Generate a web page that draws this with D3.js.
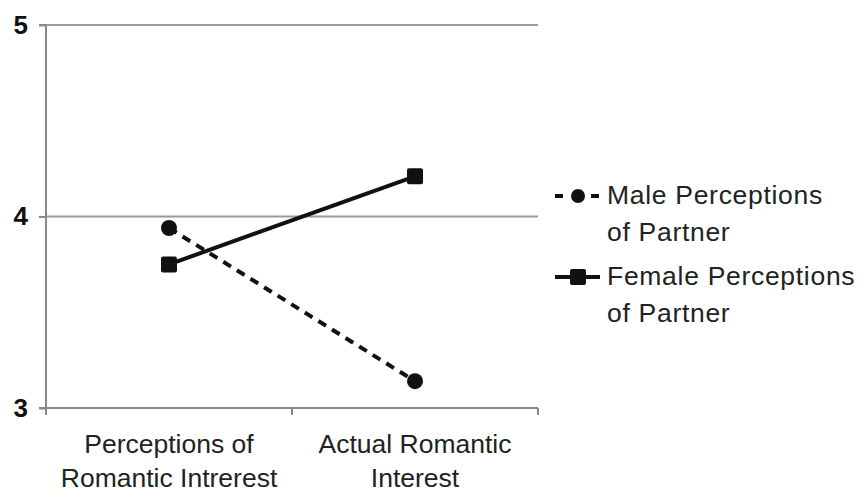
<!DOCTYPE html>
<html><head><meta charset="utf-8">
<script src="https://cdn.jsdelivr.net/npm/d3@7"></script>
<style>body{margin:0;background:#fff}svg{display:block}text{font-family:"Liberation Sans",Arial,sans-serif}</style>
</head><body><svg id="c" width="859" height="493"></svg>
<script>
const categories = [["Perceptions of","Romantic Intrerest"],["Actual Romantic","Interest"]];
const maleValues = [3.94, 3.14];
const femaleValues = [3.75, 4.21];
const yTicks = [3, 4, 5];
const seriesNames = [["Male Perceptions","of Partner"],["Female Perceptions","of Partner"]];

const svg = d3.select("#c");
const L = 46, R = 538, T = 25, B = 408;
const x = d3.scaleBand().domain([0,1]).range([L, R]);
const y = d3.scaleLinear().domain([3,5]).range([B, T]);

// gridlines
svg.append("g").selectAll("line").data(yTicks.filter(d=>d>3)).join("line")
  .attr("x1", L).attr("x2", R).attr("y1", d=>y(d)).attr("y2", d=>y(d))
  .attr("stroke", "#999").attr("stroke-width", 2);

// y axis
const ya = svg.append("g").attr("transform", `translate(${L},0)`)
  .call(d3.axisLeft(y).tickValues(yTicks).tickFormat(d3.format("d")).tickSize(7).tickPadding(11));
ya.select(".domain").attr("stroke", "#888").attr("stroke-width", 2).attr("d", `M-7,${T}H0V${B}H-7`);
ya.selectAll(".tick line").attr("stroke", "#888").attr("stroke-width", 2);
ya.selectAll(".tick text").attr("font-size", 26).attr("font-weight", "bold").attr("fill", "#111")
  .attr("font-family", "Liberation Sans, Arial, sans-serif");

// x axis
const xa = svg.append("g").attr("transform", `translate(0,${B})`);
xa.append("line").attr("x1", L).attr("x2", R).attr("stroke", "#888").attr("stroke-width", 2);
xa.selectAll("line.t").data([L, L + x.bandwidth(), R]).join("line").attr("class","t")
  .attr("x1", d=>d).attr("x2", d=>d).attr("y1", 0).attr("y2", 7).attr("stroke", "#888").attr("stroke-width", 2);
categories.forEach((lines, i) => {
  const t = xa.append("text").attr("x", x(i) + x.bandwidth()/2).attr("text-anchor", "middle")
    .attr("font-size", 26.5).attr("fill", "#222");
  lines.forEach((ln, j) => t.append("tspan").attr("x", x(i) + x.bandwidth()/2).attr("y", 45 + j*34).text(ln));
});

const cx = i => x(i) + x.bandwidth()/2;
const line = d3.line().x((d,i)=>cx(i)).y(d=>y(d));

// male series
svg.append("path").attr("d", line(maleValues)).attr("fill","none").attr("stroke","#111")
  .attr("stroke-width", 4).attr("stroke-dasharray", "9,7");
svg.selectAll("circle.m").data(maleValues).join("circle").attr("class","m")
  .attr("cx", (d,i)=>cx(i)).attr("cy", d=>y(d)).attr("r", 8).attr("fill", "#111");

// female series
svg.append("path").attr("d", line(femaleValues)).attr("fill","none").attr("stroke","#111").attr("stroke-width", 4);
svg.selectAll("rect.f").data(femaleValues).join("rect").attr("class","f")
  .attr("x", (d,i)=>cx(i)-8).attr("y", d=>y(d)-8).attr("width", 16).attr("height", 16).attr("rx", 2).attr("fill", "#111");

// legend
const lg = svg.append("g");
const ly = [196, 277];
lg.append("line").attr("x1", 555).attr("x2", 600).attr("y1", ly[0]).attr("y2", ly[0])
  .attr("stroke","#111").attr("stroke-width", 4).attr("stroke-dasharray","8,10");
lg.append("circle").attr("cx", 578).attr("cy", ly[0]).attr("r", 7).attr("fill","#111");
lg.append("line").attr("x1", 555).attr("x2", 600).attr("y1", ly[1]).attr("y2", ly[1])
  .attr("stroke","#111").attr("stroke-width", 4);
lg.append("rect").attr("x", 570).attr("y", ly[1]-8).attr("width", 16).attr("height", 16).attr("rx",2).attr("fill","#111");
seriesNames.forEach((lines, i) => {
  const t = lg.append("text").attr("font-size", 26.5).attr("fill", "#222").attr("letter-spacing", 0.7);
  lines.forEach((ln, j) => t.append("tspan").attr("x", 607).attr("y", ly[i] + 8 + j*37).text(ln));
});
</script></body></html>
